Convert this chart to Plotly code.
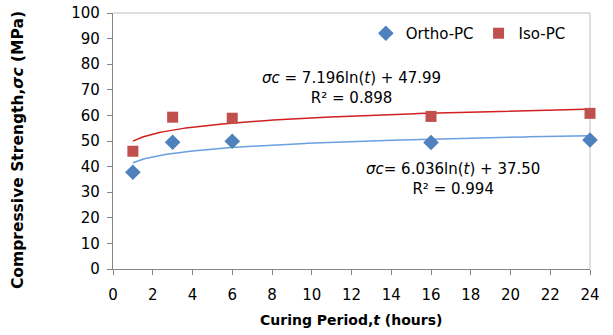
import numpy as np
import plotly.graph_objects as go

# Data
curing_hours = [1, 3, 6, 16, 24]
ortho_pc = [37.8, 49.5, 49.9, 49.4, 50.4]
iso_pc = [46.0, 59.3, 58.9, 59.6, 60.8]

x_ticks = list(range(0, 25, 2))
y_ticks = list(range(0, 101, 10))

x_title = "<b>Curing Period,<i>t</i> (hours)</b>"
y_title = "<b>Compressive Strength,<i>σc</i> (MPa)</b>"
iso_eq = "<i>σc</i> = 7.196ln(<i>t</i>) + 47.99<br>R² = 0.898"
ortho_eq = "<i>σc</i>= 6.036ln(<i>t</i>) + 37.50<br>R² = 0.994"

FONT = "DejaVu Sans"
BLUE = "#4F81BD"
RED = "#C0504D"

# logarithmic trend lines fitted to the data
t_fit = np.linspace(1, 24, 200)
def log_fit(t, y):
    a, b = np.polyfit(np.log(t), y, 1)
    return a * np.log(t_fit) + b

fig = go.Figure()
fig.add_trace(go.Scatter(x=t_fit, y=log_fit(curing_hours, iso_pc), mode="lines",
                         line=dict(color="#D02020", width=1.5), showlegend=False, hoverinfo="skip"))
fig.add_trace(go.Scatter(x=t_fit, y=log_fit(curing_hours, ortho_pc), mode="lines",
                         line=dict(color="#6A9FE0", width=1.5), showlegend=False, hoverinfo="skip"))
fig.add_trace(go.Scatter(x=curing_hours, y=ortho_pc, mode="markers", name="Ortho-PC",
                         marker=dict(symbol="diamond", size=12, color=BLUE), cliponaxis=False))
fig.add_trace(go.Scatter(x=curing_hours, y=iso_pc, mode="markers", name="Iso-PC",
                         marker=dict(symbol="square", size=11, color=RED), cliponaxis=False))

fig.add_annotation(text=iso_eq, x=12, y=70.6, xref="x", yref="y", showarrow=False,
                   font=dict(family=FONT, size=15, color="#000"), align="center")
fig.add_annotation(text=ortho_eq, x=17.1, y=35.2, xref="x", yref="y", showarrow=False,
                   font=dict(family=FONT, size=15, color="#000"), align="center")

# axis titles
fig.add_annotation(text=x_title, xref="paper", yref="paper", x=0.499, y=-0.199,
                   xanchor="center", yanchor="middle", showarrow=False,
                   font=dict(family=FONT, size=14, color="#000"))
fig.add_annotation(text=y_title, xref="paper", yref="paper", x=-0.199, y=0.465,
                   xanchor="center", yanchor="middle", showarrow=False, textangle=-90,
                   font=dict(family=FONT, size=15.5, color="#000"))

axis_common = dict(showline=True, linecolor="#868686", linewidth=1.3, ticks="outside",
                   tickcolor="#868686", ticklen=5, showgrid=False, zeroline=False,
                   mirror=False, automargin=False,
                   tickfont=dict(family=FONT, size=15, color="#000"))

fig.update_xaxes(range=[0, 24], tickvals=x_ticks, ticklabelstandoff=7, **axis_common)
fig.update_yaxes(range=[0, 100], tickvals=y_ticks, ticklabelstandoff=4, **axis_common)

# light plot-area border on top and right
fig.add_shape(type="line", xref="paper", yref="paper", x0=0, y0=1, x1=1, y1=1,
              line=dict(color="#BFBFBF", width=1), layer="below")
fig.add_shape(type="line", xref="paper", yref="paper", x0=1, y0=0, x1=1, y1=1,
              line=dict(color="#BFBFBF", width=1), layer="below")

fig.update_layout(
    width=613, height=335, margin=dict(l=113, r=23, t=13, b=66),
    paper_bgcolor="white", plot_bgcolor="white",
    legend=dict(orientation="h", x=0.53, y=0.92, xanchor="left", yanchor="middle",
                font=dict(family=FONT, size=15, color="#000"), itemwidth=30,
                bgcolor="rgba(0,0,0,0)"),
)

fig.write_html("out.html")
